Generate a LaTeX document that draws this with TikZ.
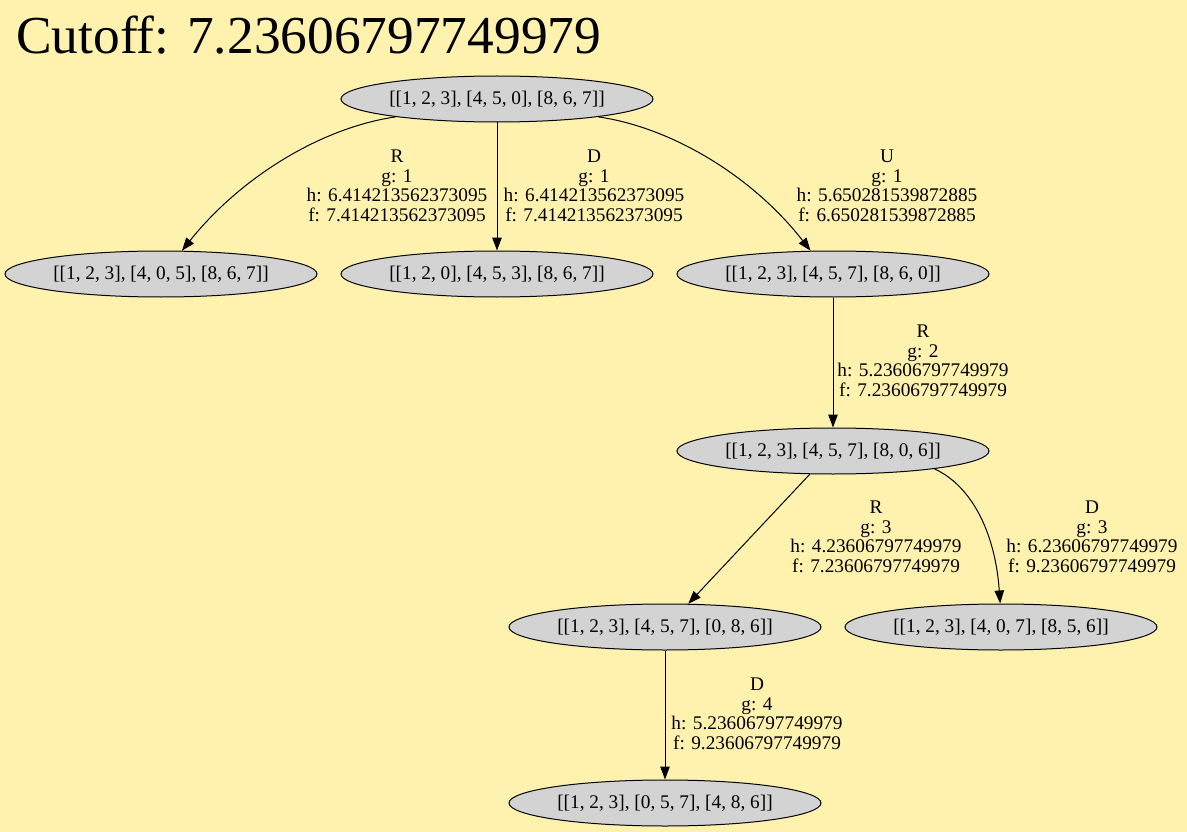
\documentclass[tikz,border=0pt]{standalone}
\usepackage{fontspec}
\setmainfont{Liberation Serif}
\usetikzlibrary{shapes.geometric,arrows.meta}
\definecolor{bgc}{HTML}{FFF2AE}
\definecolor{nodefill}{HTML}{D3D3D3}
\begin{document}
\begin{tikzpicture}[x=1pt,y=-1pt,
  state/.style={ellipse,draw=black,fill=nodefill,line width=1pt,minimum width=312pt,minimum height=46pt,inner sep=0pt,font=\fontsize{19.3}{22}\selectfont},
  elabel/.style={align=center,inner sep=0pt,font=\fontsize{19.3}{19.6}\selectfont},
  edge/.style={draw=black,line width=1pt,-{Triangle[length=13pt,width=9.5pt]}}]
\fill[bgc] (0,0) rectangle (1187,832);
\useasboundingbox (0,0) rectangle (1187,832);
\node[anchor=base west,inner sep=0pt,font=\fontsize{53.4}{60}\selectfont] (title) at (16,54) {Cutoff: 7.23606797749979};
\node[state] (root) at (497,99) {[[1, 2, 3], [4, 5, 0], [8, 6, 7]]};
\node[state] (n1) at (161,274) {[[1, 2, 3], [4, 0, 5], [8, 6, 7]]};
\node[state] (n2) at (497,274) {[[1, 2, 0], [4, 5, 3], [8, 6, 7]]};
\node[state] (n3) at (833,274) {[[1, 2, 3], [4, 5, 7], [8, 6, 0]]};
\node[state] (n4) at (833,451) {[[1, 2, 3], [4, 5, 7], [8, 0, 6]]};
\node[state] (n5) at (665,627) {[[1, 2, 3], [4, 5, 7], [0, 8, 6]]};
\node[state] (n6) at (1001,627) {[[1, 2, 3], [4, 0, 7], [8, 5, 6]]};
\node[state] (n7) at (665,803) {[[1, 2, 3], [0, 5, 7], [4, 8, 6]]};
\path[edge] (root.190) .. controls (320,128) and (240,178) .. (n1.48);
\path[edge] (root) -- (n2);
\path[edge] (root.-10) .. controls (674,128) and (754,178) .. (n3.134);
\path[edge] (n3) -- (n4);
\path[edge] (n4.225) -- (n5.45);
\path[edge] (n4.-10) .. controls (970,485) and (995,530) .. (n6.92);
\path[edge] (n5) -- (n7);
\node[elabel] (l1) at (397,186) {R\\g: 1\\h: 6.414213562373095\\f: 7.414213562373095};
\node[elabel] (l2) at (594,186) {D\\g: 1\\h: 6.414213562373095\\f: 7.414213562373095};
\node[elabel] (l3) at (887,186) {U\\g: 1\\h: 5.650281539872885\\f: 6.650281539872885};
\node[elabel] (l4) at (923,361) {R\\g: 2\\h: 5.23606797749979\\f: 7.23606797749979};
\node[elabel] (l5) at (876,537) {R\\g: 3\\h: 4.23606797749979\\f: 7.23606797749979};
\node[elabel] (l6) at (1092,537) {D\\g: 3\\h: 6.23606797749979\\f: 9.23606797749979};
\node[elabel] (l7) at (757,714) {D\\g: 4\\h: 5.23606797749979\\f: 9.23606797749979};
\end{tikzpicture}
\end{document}
